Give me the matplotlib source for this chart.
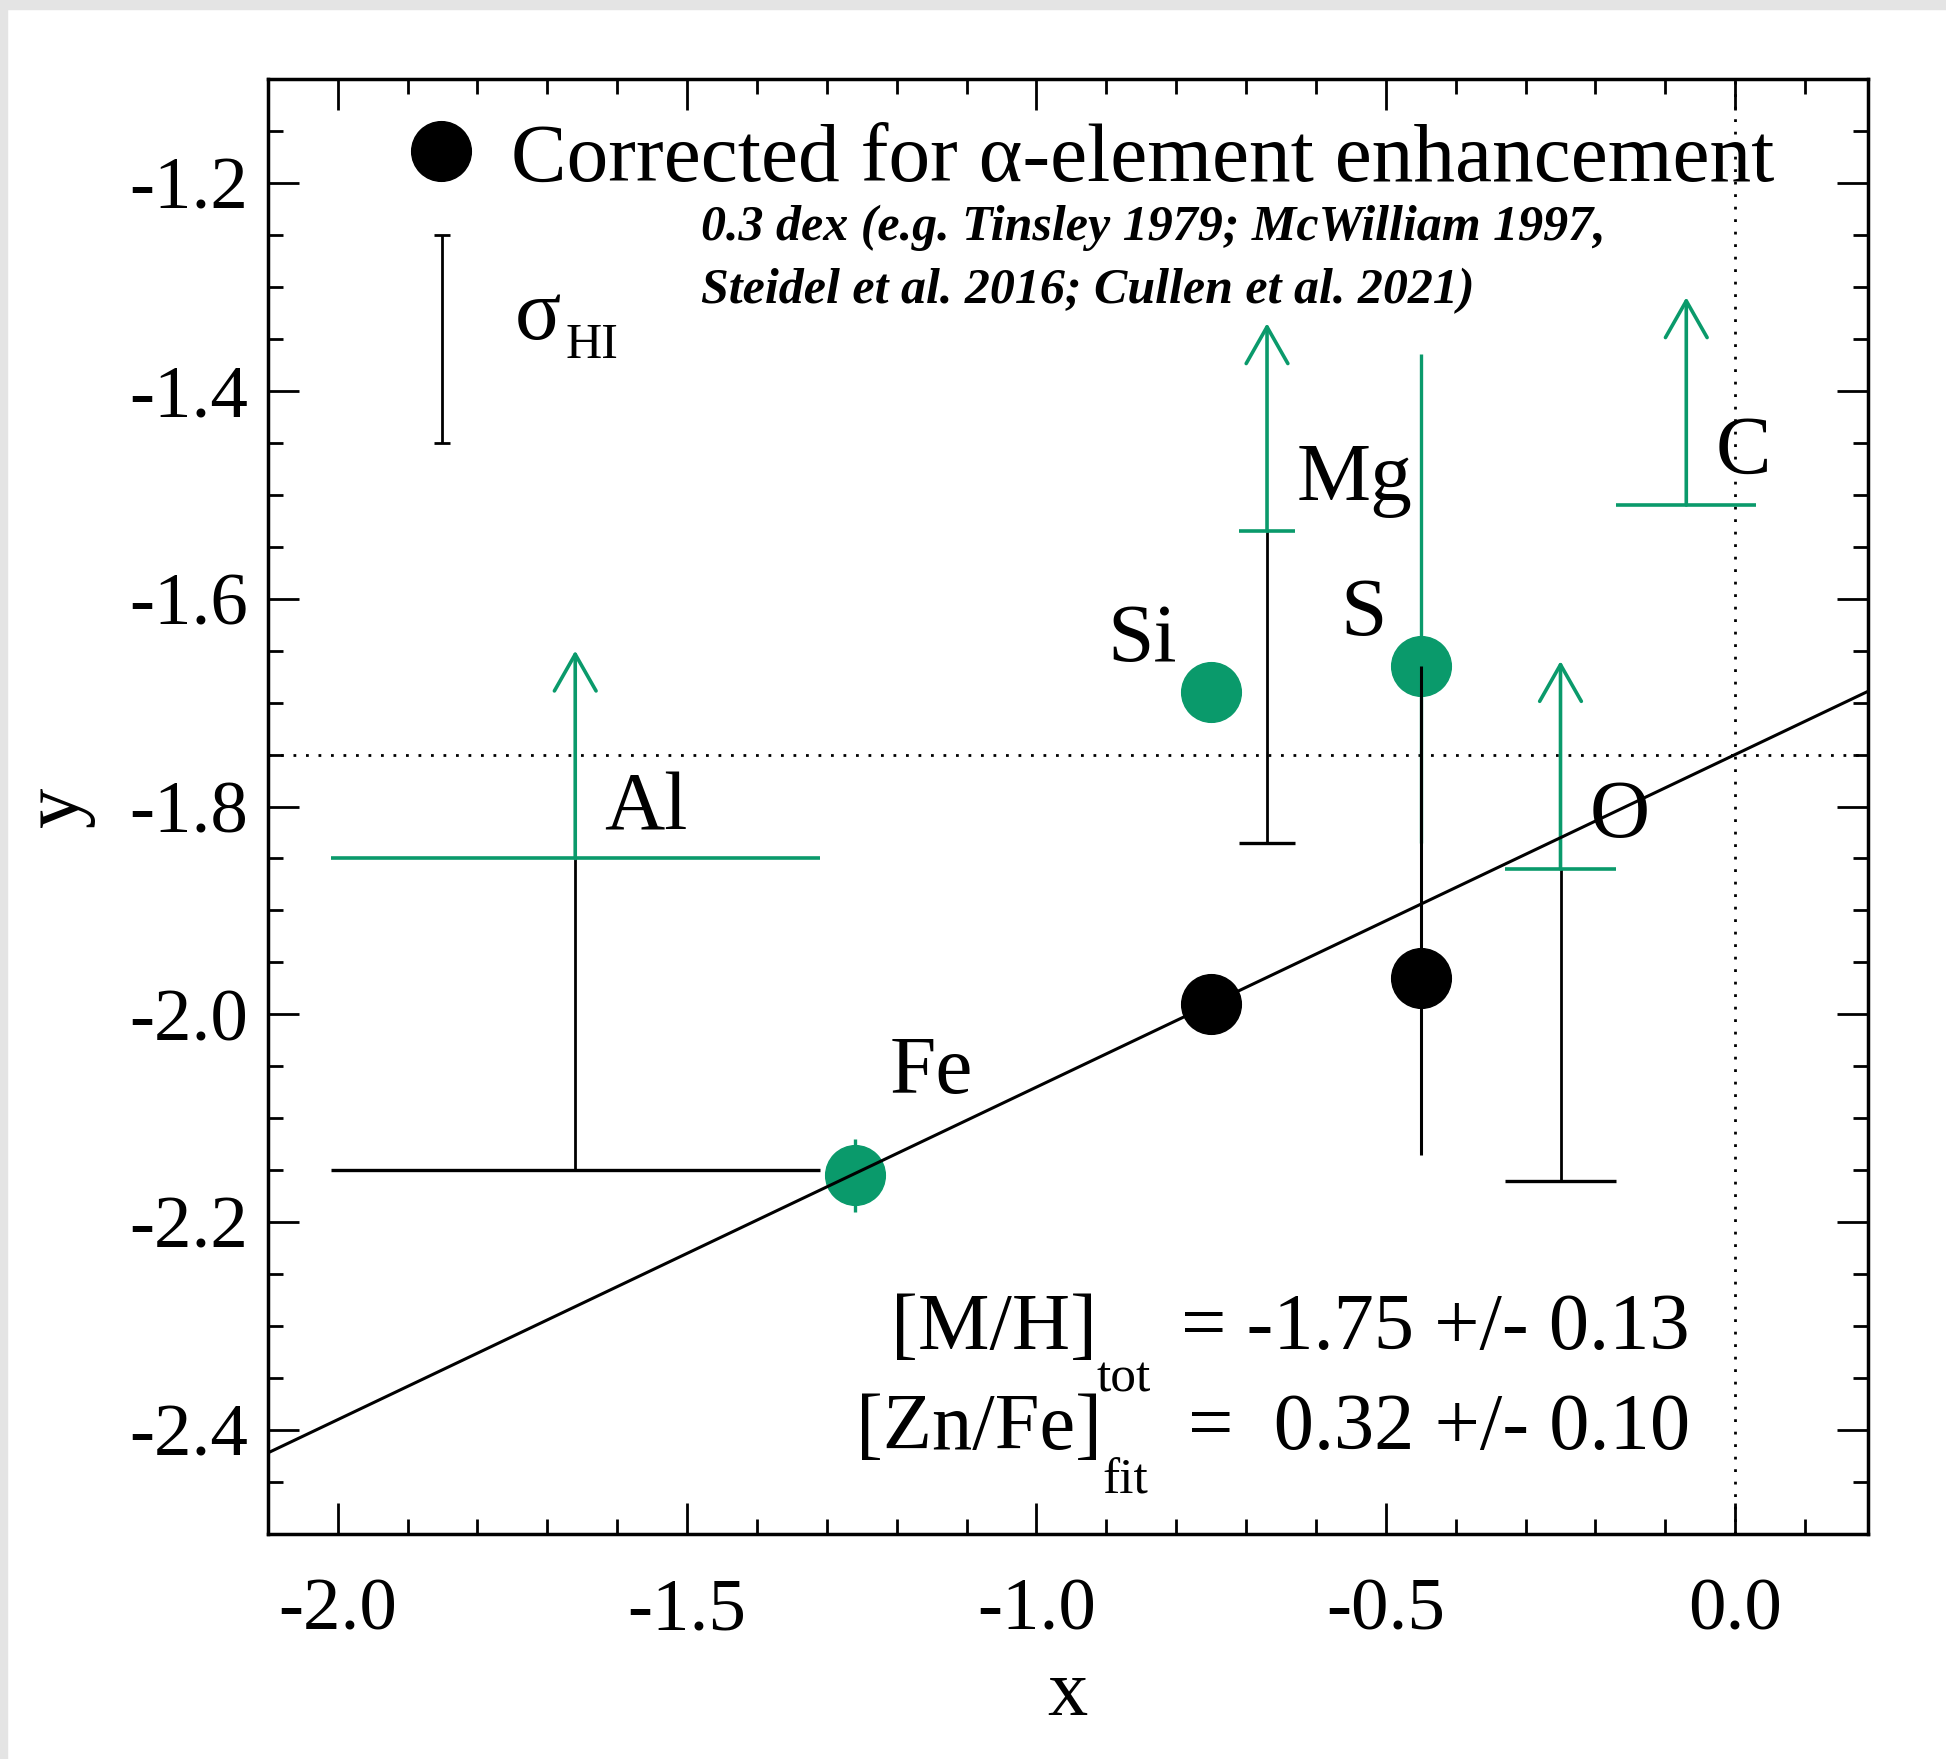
import matplotlib.pyplot as plt
from matplotlib.lines import Line2D
from matplotlib.patches import Rectangle
from matplotlib.ticker import MultipleLocator, FormatStrFormatter

plt.rcParams['font.family'] = ['Liberation Serif', 'DejaVu Serif']
plt.rcParams['axes.unicode_minus'] = False

green = '#0a9a6b'

# depletion fit
mh_tot, mh_tot_err = -1.75, 0.13
znfe_fit, znfe_fit_err = 0.32, 0.10
alpha_corr = 0.3          # dex, alpha-element enhancement

# detections
det_el = ['Fe', 'Si', 'S']
det_x = [-1.26, -0.75, -0.45]
det_y = [-2.155, -1.69, -1.665]
det_err_lo = [0.035, 0.0, 0.17]
det_err_hi = [0.035, 0.0, 0.30]

# elements that get the alpha correction
corr_el = ['Si', 'S']

# lower limits
lim_el = ['Al', 'Mg', 'O', 'C']
lim_x = [-1.66, -0.67, -0.25, -0.07]
lim_y = [-1.85, -1.535, -1.86, -1.51]
lim_xerr = [0.35, 0.04, 0.08, 0.10]
lim_corr = ['Al', 'Mg', 'O']

sigma_hi = 0.1

# label offsets from each point (data units)
label_off = {'Fe': (0.109, 0.079), 'Si': (-0.098, 0.030), 'S': (-0.082, 0.030),
             'Mg': (0.125, 0.030), 'Al': (0.101, 0.028), 'O': (0.085, 0.031),
             'C': (0.082, 0.031)}
arrow_len = 0.2

fig = plt.figure(figsize=(19.46, 17.59), dpi=100)
fig.patches.append(Rectangle((0, 1 - 9 / 1759), 1, 9 / 1759, transform=fig.transFigure,
                             color='#e4e4e4', zorder=0))
fig.patches.append(Rectangle((0, 0), 7 / 1946, 1, transform=fig.transFigure,
                             color='#e4e4e4', zorder=0))
ax = fig.add_axes([0.1376, 0.1279, 0.8223, 0.8272])
ax.set_xlim(-2.1, 0.19)
ax.set_ylim(-2.5, -1.1)

# reference lines and fit
dots = (0, (1, 3.5))
ax.axhline(mh_tot, color='k', ls=dots, lw=2, zorder=1)
ax.axvline(0, color='k', ls=dots, lw=2, zorder=1)
ax.axline((0, mh_tot), slope=znfe_fit, color='k', lw=2.2, zorder=10)

# lower limits with arrows, shifted copies in black
for el, x, y, xe in zip(lim_el, lim_x, lim_y, lim_xerr):
    if el in lim_corr:
        ax.vlines(x, y - alpha_corr, y, color='k', lw=2, zorder=2)
        ax.hlines(y - alpha_corr, x - xe, x + xe, color='k', lw=2.4, zorder=2)
    ax.hlines(y, x - xe, x + xe, color=green, lw=2.6, zorder=3)
    ax.annotate('', xy=(x, y + arrow_len), xytext=(x, y),
                arrowprops=dict(arrowstyle='->,head_length=1.32,head_width=0.75',
                                color=green, lw=2.6, shrinkA=0, shrinkB=0,
                                mutation_scale=20), zorder=3)

# detections
ax.errorbar(det_x, det_y, yerr=[det_err_lo, det_err_hi], fmt='o', color=green,
            ms=43, elinewidth=2.4, capsize=0, zorder=4)

cx = [det_x[det_el.index(e)] for e in corr_el]
cy = [det_y[det_el.index(e)] - alpha_corr for e in corr_el]
c_lo = [det_err_lo[det_el.index(e)] for e in corr_el]
c_hi = [det_err_hi[det_el.index(e)] for e in corr_el]
ax.errorbar(cx, cy, yerr=[c_lo, c_hi], fmt='o', color='k', ms=43,
            elinewidth=2.2, capsize=0, zorder=5)

# element names
for el, x, y in list(zip(det_el, det_x, det_y)) + list(zip(lim_el, lim_x, lim_y)):
    dx, dy = label_off[el]
    ax.text(x + dx, y + dy, el, fontsize=60, ha='center', va='baseline', zorder=6)

# typical N(HI) uncertainty
ax.errorbar(-1.85, -1.35, yerr=sigma_hi, color='k', elinewidth=2, capsize=6,
            capthick=2)
sig = ax.text(0.1545, 0.8213, 'σ', fontsize=62, transform=ax.transAxes,
              va='baseline')
ax.annotate('HI', xy=(1, 0), xycoords=sig, xytext=(3, 0), textcoords='offset points',
            fontsize=36, va='baseline')

# legend
handle = Line2D([], [], ls='none', marker='o', color='k', ms=43)
ax.legend([handle], ['Corrected for α-element enhancement'], loc='center left',
          bbox_to_anchor=(0.0825, 0.944), frameon=False, fontsize=60,
          handlelength=1.0, handletextpad=0.33, borderpad=0, borderaxespad=0)

note_kw = dict(fontsize=36, style='italic', weight='bold', transform=ax.transAxes,
               va='baseline')
ax.text(0.2708, 0.8893, '0.3 dex (e.g. Tinsley 1979; McWilliam 1997,', **note_kw)
ax.text(0.2708, 0.8460, 'Steidel et al. 2016; Cullen et al. 2021)', **note_kw)

# fit results
lab1 = ax.text(0.5182, 0.1271, '[M/H]', fontsize=58, ha='right', va='baseline',
               transform=ax.transAxes)
ax.annotate('tot', xy=(1, 0), xycoords=lab1, xytext=(0, -18),
            textcoords='offset points', fontsize=37, va='baseline')
ax.text(0.8888, 0.1271, f'= {mh_tot:.2f} +/- {mh_tot_err:.2f}', fontsize=58,
        ha='right', va='baseline', transform=ax.transAxes)
lab2 = ax.text(0.5214, 0.0584, '[Zn/Fe]', fontsize=58, ha='right', va='baseline',
               transform=ax.transAxes)
ax.annotate('fit', xy=(1, 0), xycoords=lab2, xytext=(0, -20),
            textcoords='offset points', fontsize=37, va='baseline')
ax.text(0.8888, 0.0584, f'=  {znfe_fit:.2f} +/- {znfe_fit_err:.2f}', fontsize=58,
        ha='right', va='baseline', transform=ax.transAxes)

# axes styling
ax.xaxis.set_major_locator(MultipleLocator(0.5))
ax.xaxis.set_minor_locator(MultipleLocator(0.1))
ax.yaxis.set_major_locator(MultipleLocator(0.2))
ax.yaxis.set_minor_locator(MultipleLocator(0.05))
ax.xaxis.set_major_formatter(FormatStrFormatter('%.1f'))
ax.yaxis.set_major_formatter(FormatStrFormatter('%.1f'))
ax.tick_params(which='both', direction='in', top=True, right=True, width=2)
ax.tick_params(which='major', length=22)
ax.tick_params(which='minor', length=11)
ax.tick_params(axis='x', which='major', labelsize=54, pad=32)
ax.tick_params(axis='y', which='major', labelsize=54, pad=14)
for s in ax.spines.values():
    s.set_linewidth(2.5)

ax.set_xlabel('x', fontsize=58)
ax.set_ylabel('y', fontsize=58)
ax.xaxis.set_label_coords(0.5, -0.086)
ax.yaxis.set_label_coords(-0.108, 0.5)

fig.savefig('out.png', dpi=100)
